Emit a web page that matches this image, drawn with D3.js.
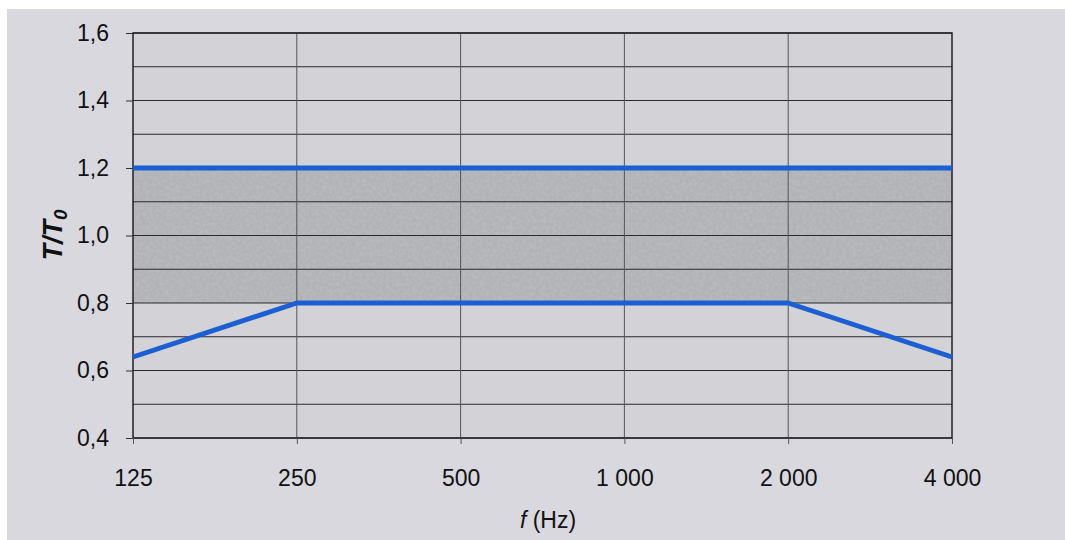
<!DOCTYPE html>
<html lang="cs">
<head>
<meta charset="UTF-8">
<title>T/T0</title>
<script src="https://d3js.org/d3.v7.min.js"></script>
<style>
  body { margin: 0; background: #fff; }
  text { font-family: "Liberation Sans", Arial, sans-serif; fill: #111; }
</style>
</head>
<body>
<div id="chart"></div>
<script>
  // data
  const categories = ["125", "250", "500", "1 000", "2 000", "4 000"];
  const upper = [1.2, 1.2, 1.2, 1.2, 1.2, 1.2];
  const lower = [0.64, 0.8, 0.8, 0.8, 0.8, 0.64];
  const band = [0.8, 1.2];
  const yTicks = [0.4, 0.6, 0.8, 1.0, 1.2, 1.4, 1.6];
  const yGrid = [0.4, 0.5, 0.6, 0.7, 0.8, 0.9, 1.0, 1.1, 1.2, 1.3, 1.4, 1.5, 1.6];

  const W = 1065, H = 540;
  const margin = { top: 33, right: 113, bottom: 102, left: 133 };
  const width = W - margin.left - margin.right;
  const height = H - margin.top - margin.bottom;

  const svg = d3.select("#chart").append("svg")
    .attr("width", W).attr("height", H);

  // scanned page background
  svg.append("rect").attr("x", 7).attr("y", 9).attr("width", W).attr("height", H)
    .attr("fill", "#d8d8de");

  const defs = svg.append("defs");
  const f = defs.append("filter").attr("id", "grain").attr("x", 0).attr("y", 0)
    .attr("width", 1).attr("height", 1);
  f.append("feTurbulence").attr("type", "fractalNoise").attr("baseFrequency", 0.3)
    .attr("numOctaves", 2).attr("seed", 3).attr("result", "n");
  f.append("feColorMatrix").attr("in", "n").attr("type", "matrix")
    .attr("values", "0 0 0 0 0.5  0 0 0 0 0.51  0 0 0 0 0.53  0 0 0 -1.6 1.05").attr("result", "c");
  f.append("feComposite").attr("in", "c").attr("in2", "SourceGraphic").attr("operator", "in").attr("result", "d");
  f.append("feMerge").call(m => { m.append("feMergeNode").attr("in", "SourceGraphic"); m.append("feMergeNode").attr("in", "d"); });

  const g = svg.append("g").attr("transform", `translate(${margin.left},${margin.top})`);

  const x = d3.scalePoint().domain(categories).range([0, width]);
  const y = d3.scaleLinear().domain([0.4, 1.6]).range([height, 0]);

  // plot area
  g.append("rect").attr("width", width).attr("height", height).attr("fill", "#d2d2d7");

  // tolerance band
  g.append("rect")
    .attr("x", 0).attr("y", y(band[1]))
    .attr("width", width).attr("height", y(band[0]) - y(band[1]))
    .attr("fill", "#b2b3b6")
    .attr("filter", "url(#grain)");

  // horizontal grid
  g.selectAll(".hgrid").data(yGrid).enter().append("line")
    .attr("x1", 0).attr("x2", width)
    .attr("y1", d => y(d)).attr("y2", d => y(d))
    .attr("stroke", "#2a2a2e").attr("stroke-width", 1.2);

  // vertical grid
  g.selectAll(".vgrid").data(categories.slice(1, -1)).enter().append("line")
    .attr("x1", d => x(d)).attr("x2", d => x(d))
    .attr("y1", 0).attr("y2", height)
    .attr("stroke", "#55555a").attr("stroke-width", 1);

  // frame
  g.append("rect").attr("width", width).attr("height", height)
    .attr("fill", "none").attr("stroke", "#222226").attr("stroke-width", 1.5);

  // axes
  const yAxis = g.append("g")
    .call(d3.axisLeft(y).tickValues(yTicks).tickSize(7).tickPadding(17)
      .tickFormat(d => d3.format(".1f")(d).replace(".", ",")));
  yAxis.select(".domain").remove();
  yAxis.selectAll("line").attr("stroke", "#333");
  yAxis.selectAll("text").attr("font-size", 23).attr("fill", "#111");

  const xAxis = g.append("g").attr("transform", `translate(0,${height})`)
    .call(d3.axisBottom(x).tickSize(6).tickPadding(26));
  xAxis.select(".domain").remove();
  xAxis.selectAll("line").attr("stroke", "#555");
  xAxis.selectAll("text").attr("font-size", 23).attr("fill", "#111");

  // series
  const line = d3.line().x((d, i) => x(categories[i])).y(d => y(d));
  [upper, lower].forEach(s => {
    g.append("path").datum(s).attr("d", line)
      .attr("fill", "none").attr("stroke", "#1b5fd2").attr("stroke-width", 5)
      .attr("stroke-linejoin", "round");
  });

  // axis titles
  svg.append("text")
    .attr("x", 548).attr("y", 528).attr("text-anchor", "middle")
    .attr("font-size", 23)
    .html('<tspan font-style="italic">f</tspan> (Hz)');

  svg.append("text")
    .attr("transform", "translate(62,235) rotate(-90)")
    .attr("text-anchor", "middle")
    .attr("font-size", 27).attr("font-weight", "bold").attr("font-style", "italic")
    .html('T/T<tspan font-size="19" dy="5">0</tspan>');
</script>
</body>
</html>
